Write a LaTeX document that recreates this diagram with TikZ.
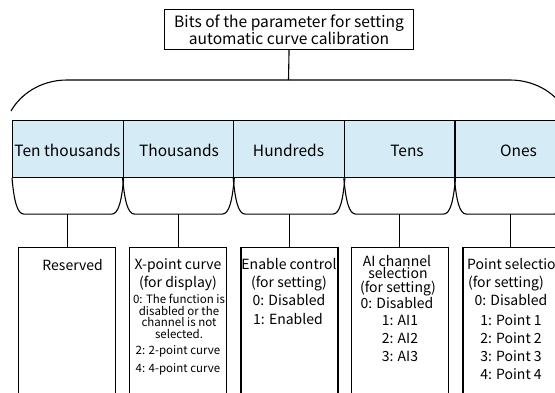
\documentclass[tikz,border=0pt]{standalone}
\usepackage{fontspec}
\setmainfont{Noto Sans CJK SC}
\definecolor{bitblue}{RGB}{213,235,245}
\begin{document}
\begin{tikzpicture}[x=1pt,y=-1pt,
  line/.style={line width=1.1pt, black},
  titlebox/.style={draw, line width=1.1pt, minimum width=249pt, minimum height=40pt, inner sep=0pt, anchor=north west, align=center, font=\fontsize{15.6}{17}\selectfont},
  bitbox/.style={draw, line width=1.1pt, fill=bitblue, minimum width=110.6pt, minimum height=57pt, inner sep=0pt, anchor=north west},
  bitlabel/.style={anchor=base, inner sep=0pt, font=\fontsize{15.5}{18}\selectfont},
  bottombox/.style={draw, line width=1.1pt, minimum width=97pt, minimum height=170pt, inner sep=0pt, anchor=north},
  big/.style={anchor=base, inner sep=0pt, font=\fontsize{14}{17}\selectfont},
  small/.style={anchor=base, inner sep=0pt, font=\fontsize{11.5}{13}\selectfont}]
\clip (0,0) rectangle (555,392);
% title
\node[titlebox] (title) at (164,9) {Bits of the parameter for setting\\automatic curve calibration};
\coordinate (bc) at (288.5,80);
\draw[line] (title.south) -- (bc);
\draw[line] (11,111) .. controls (20,95) and (40,80) .. (67,80) -- (510,80) .. controls (537,80) and (557,95) .. (566,111);
% bit boxes
\node[bitbox] (b1) at (12,120) {};
\node[bitbox] (b2) at (122.6,120) {};
\node[bitbox] (b3) at (233.2,120) {};
\node[bitbox] (b4) at (343.8,120) {};
\node[bitbox] (b5) at (454.4,120) {};
\node[bitlabel] (l1) at (67.5,156) {Ten thousands};
\node[bitlabel] (l2) at (179,156) {Thousands};
\node[bitlabel] (l3) at (288.5,156) {Hundreds};
\node[bitlabel] (l4) at (407,156) {Tens};
\node[bitlabel] (l5) at (518.5,156) {Ones};
% small braces
\foreach \i in {1,...,5} {
  \draw[line] (b\i.south west) .. controls +(2,22) and +(-7,0) .. ([xshift=12pt,yshift=-36pt]b\i.south west)
    -- ([xshift=-12pt,yshift=-36pt]b\i.south east) .. controls +(7,0) and +(-2,22) .. (b\i.south east);
  \coordinate (c\i) at ([yshift=-36pt]b\i.south);
}
% bottom boxes
\node[bottombox] (bb1) at (67,247) {};
\node[bottombox] (bb2) at (178,247) {};
\node[bottombox] (bb3) at (289.5,247) {};
\node[bottombox] (bb4) at (400,247) {};
\node[bottombox] (bb5) at (511.5,247) {};
\foreach \i in {1,...,5} {
  \draw[line] (c\i) -- (c\i |- bb\i.north);
}
% texts box 1
\node[big, anchor=base east] (t1a) at (103,270) {Reserved};
% box 2
\node[big] (t2a) at (178,269) {X-point curve};
\node[big] (t2b) at (178,287) {(for display)};
\node[small] (t2c) at (179,303) {0: The function is};
\node[small] (t2d) at (179,315) {disabled or the};
\node[small] (t2e) at (179,326.5) {channel is not};
\node[small] (t2f) at (179,338) {selected.};
\node[small] (t2g) at (178,354) {2: 2-point curve};
\node[small] (t2h) at (178,372) {4: 4-point curve};
% box 3
\node[big] (t3a) at (289,269) {Enable control};
\node[big] (t3b) at (289,287) {(for setting)};
\node[big] (t3c) at (289,305) {0: Disabled};
\node[big] (t3d) at (288,324) {1: Enabled};
% box 4
\node[big] (t4a) at (397,266) {AI channel};
\node[big] (t4b) at (398,278.5) {selection};
\node[big] (t4c) at (398,292) {(for setting)};
\node[big] (t4d) at (397,308) {0: Disabled};
\node[big] (t4e) at (400,325) {1: AI1};
\node[big] (t4f) at (400,343) {2: AI2};
\node[big] (t4g) at (400,361) {3: AI3};
% box 5
\node[big, anchor=base west] (t5a) at (467,269) {Point selection};
\node[big] (t5b) at (506,287) {(for setting)};
\node[big] (t5c) at (511,305) {0: Disabled};
\node[big] (t5d) at (511,325) {1: Point 1};
\node[big] (t5e) at (511,343) {2: Point 2};
\node[big] (t5f) at (511,361) {3: Point 3};
\node[big] (t5g) at (511,379) {4: Point 4};
\end{tikzpicture}
\end{document}
